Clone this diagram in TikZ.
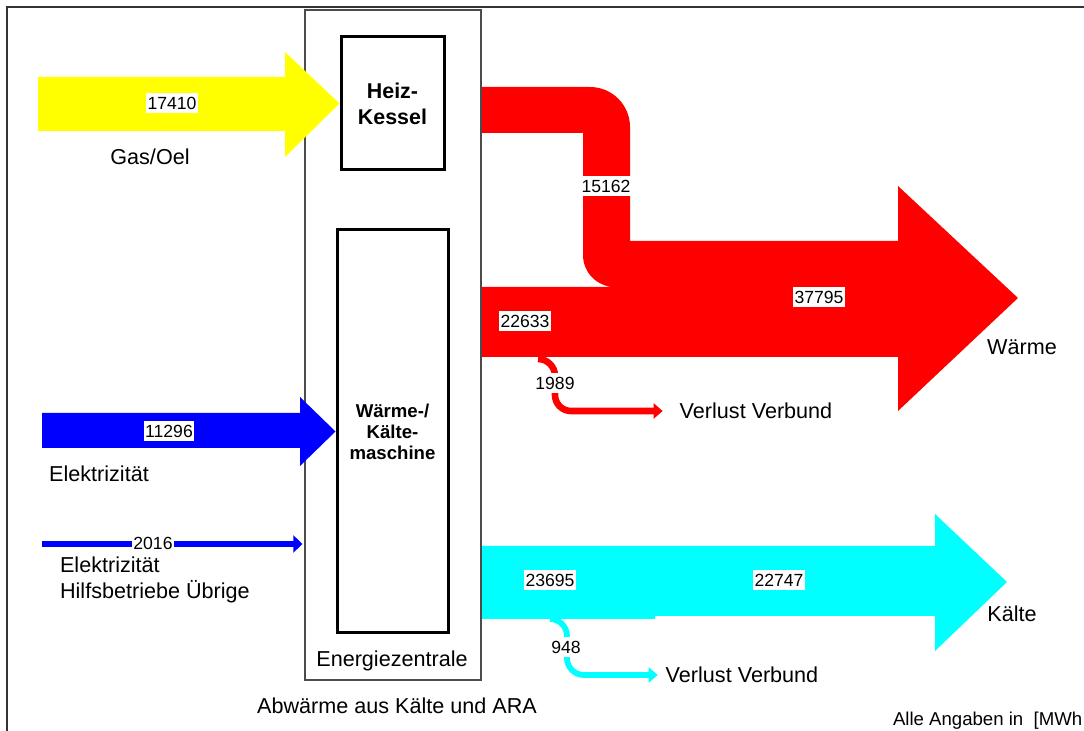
\documentclass[tikz,border=0pt]{standalone}
\usepackage{fontspec}
\setmainfont{Liberation Sans}
\usetikzlibrary{positioning,arrows.meta}
\definecolor{gasgelb}{RGB}{255,255,0}
\definecolor{stromblau}{RGB}{0,0,255}
\definecolor{waermerot}{RGB}{255,0,0}
\definecolor{kaeltecyan}{RGB}{0,255,255}

\begin{document}
\begin{tikzpicture}[x=0.5pt,y=-0.5pt,
  num/.style={fill=white,inner xsep=0.6pt,inner ysep=2pt,font=\fontsize{8.8}{10}\selectfont},
  txt/.style={font=\fontsize{10.8}{13}\selectfont},
  unitbox/.style={draw,line width=1.5pt,align=center,inner sep=0pt},
  verlustpfeil/.style={-{Triangle[length=4.5pt,width=7.5pt]}}]
      \useasboundingbox (0,0) rectangle (1084,731);
      \draw[line width=1pt,black!80] (1084,7) -- (7,7) -- (7,731);
      \draw (393,345) node[draw=black!70,line width=0.6pt,minimum width=88pt,minimum height=335pt] (zentrale) {};
      \draw (392,661) node[txt] (zentralelbl) {Energiezentrale};
      \draw (392.5,103.5) node[unitbox,minimum width=51.5pt,minimum height=66.5pt,font=\bfseries\fontsize{10.7}{13}\selectfont] (kessel) {Heiz-\\Kessel};
      \draw (392.5,431.5) node[unitbox,minimum width=55.5pt,minimum height=201.5pt,font=\bfseries\fontsize{9.3}{10.5}\selectfont] (maschine) {Wärme-/\\Kälte-\\maschine};
      \draw (150,157) node[txt] (gas) {Gas/Oel};
      \draw (99,474) node[txt] (elek) {Elektrizität};
      \draw (53,580) node[txt,anchor=west,align=left] (hilfs) {Elektrizität\\Hilfsbetriebe Übrige};
      \draw (1022,347) node[txt] (waerme) {Wärme};
      \draw (1012,614) node[txt] (kaelte) {Kälte};
      \draw (756,411) node[txt] (verlustrot) {Verlust Verbund};
      \draw (742,675) node[txt] (verlustcyan) {Verlust Verbund};
      \draw (397,706) node[txt] (abwaerme) {Abwärme aus Kälte und ARA};
      \draw (886,721) node[anchor=west,font=\fontsize{9.3}{11}\selectfont] (einheit) {Alle Angaben in\ \ [MWh};
      % Zufluesse
      \fill[gasgelb] (38,77) -- (285,77) -- (285,52) -- (kessel.west) -- (285,157) -- (285,131) -- (38,131) -- cycle;
      \fill[stromblau] (42,413) -- (300,413) -- (300,397) -- (maschine.west) -- (300,466) -- (300,448) -- (42,448) -- cycle;
      \coordinate (hilfsin) at (42,544);
      \draw[stromblau,line width=3pt,-{Triangle[length=4.5pt,width=8.5pt]},shorten >=1pt] (hilfsin) -- (hilfsin -| zentrale.west);
      % Waerme
      \fill[waermerot] (482,87) -- (590,87) arc(270:360:40) -- (630,241) -- (898,241) -- (898,186) -- (1018,298) -- (898,411) -- (898,357) -- (482,357) -- (482,287) -- (615,287) arc(90:180:32) -- (583,133) -- (482,133) -- cycle;
      \coordinate (rotab) at (538,359);
      \draw[waermerot,line width=3.3pt,verlustpfeil,shorten >=5pt] (rotab) arc(270:360:17) -- (555,395) arc(180:90:16) -- (verlustrot.west);
      % Kaelte
      \fill[kaeltecyan] (482,546) -- (935,546) -- (935,514) -- (1007,582) -- (935,651) -- (935,616) -- (655,616) -- (655,619) -- (482,619) -- cycle;
      \coordinate (cyanab) at (550,619);
      \draw[kaeltecyan,line width=2.9pt,verlustpfeil,shorten >=0.5pt] (cyanab) arc(270:360:17) -- (567,658) arc(180:90:17) -- (verlustcyan.west);
      % Werte
      \draw (172,103) node[num] (gasnum) {17410};
      \draw (169,431) node[num] (eleknum) {11296};
      \draw (153,543) node[num] (hilfsnum) {2016};
      \draw (606,186) node[num] (kesselnum) {15162};
      \draw (525,321) node[num] (wpnum) {22633};
      \draw (819,297) node[num] (waermenum) {37795};
      \draw (555,383) node[num] (verlustrotnum) {1989};
      \draw (550,580) node[num] (kmnum) {23695};
      \draw (779,580) node[num] (kaeltenum) {22747};
      \draw (566,647) node[num] (verlustcyannum) {948};
\end{tikzpicture}
\end{document}
